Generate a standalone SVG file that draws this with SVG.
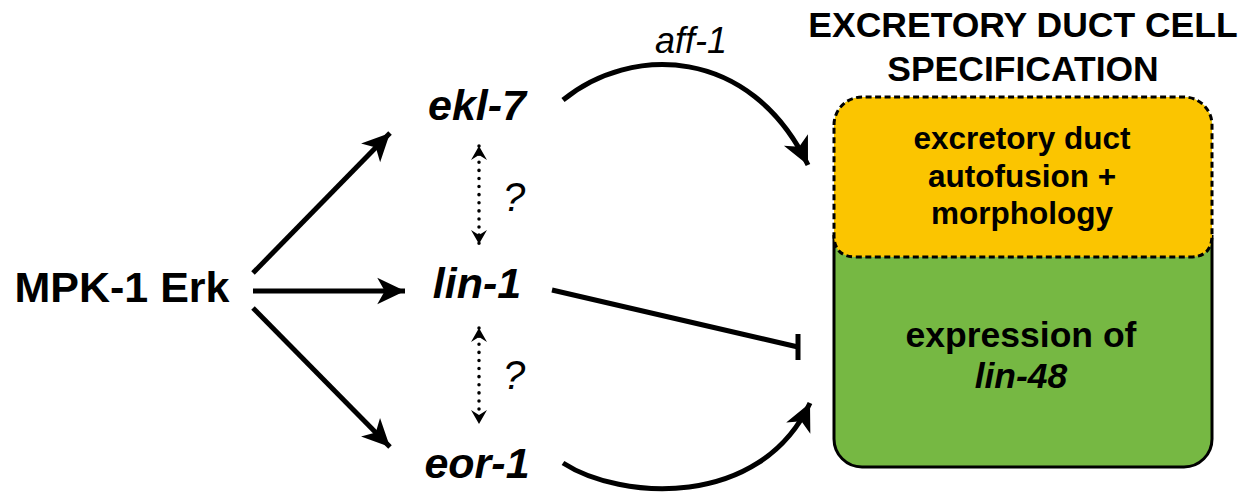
<svg xmlns="http://www.w3.org/2000/svg" width="1252" height="500" viewBox="0 0 1252 500">
<style>
.t{font-family:"Liberation Sans",Arial,sans-serif;font-weight:bold;fill:#000}
.bi{font-family:"Liberation Sans",Arial,sans-serif;font-weight:bold;font-style:italic;fill:#000}
.i{font-family:"Liberation Sans",Arial,sans-serif;font-style:italic;fill:#000}
.c{fill:none;stroke:#000;stroke-width:5}
.d{fill:none;stroke:#000;stroke-width:3.5;stroke-dasharray:0.1 8;stroke-linecap:round}
</style>
<defs>
<marker id="ah" markerUnits="userSpaceOnUse" markerWidth="32" markerHeight="32" viewBox="-28 -14 30 28" refX="0" refY="0" orient="auto">
<path d="M0,0 L-26,-12.5 L-19,0 L-26,12.5 Z" fill="#000"/>
</marker>
<marker id="sh" markerUnits="userSpaceOnUse" markerWidth="18" markerHeight="18" viewBox="-15 -9 16 18" refX="0" refY="0" orient="auto-start-reverse">
<path d="M0,0 L-14,-8 L-9,0 L-14,8 Z" fill="#000"/>
</marker>
</defs>
<g id="title">
<text class="t" x="1023" y="37" font-size="35.5" text-anchor="middle">EXCRETORY DUCT CELL</text>
<text class="t" x="1023" y="81" font-size="35.5" text-anchor="middle">SPECIFICATION</text>
</g>
<g id="box">
<rect x="834" y="97" width="378" height="370" rx="28" fill="#76B843"/>
<path d="M834,235 L834,439 A28,28 0 0 0 862,467 L1184,467 A28,28 0 0 0 1212,439 L1212,235" fill="none" stroke="#000" stroke-width="3"/>
<path d="M834,125 A28,28 0 0 1 862,97 L1184,97 A28,28 0 0 1 1212,125 L1212,235 Q1212,257 1190,257 L856,257 Q834,257 834,235 Z" fill="#FBC500" stroke="#000" stroke-width="3" stroke-dasharray="6 3.5"/>
<text class="t" x="1022" y="149" font-size="31.5" text-anchor="middle">excretory duct</text>
<text class="t" x="1022" y="187" font-size="31.5" text-anchor="middle">autofusion +</text>
<text class="t" x="1022" y="224" font-size="31.5" text-anchor="middle">morphology</text>
<text class="t" x="1021" y="347" font-size="35.5" text-anchor="middle">expression of</text>
<text class="bi" x="1021" y="388" font-size="35.5" text-anchor="middle">lin-48</text>
</g>
<g id="mpk1"><text class="t" x="122" y="302" font-size="43" text-anchor="middle">MPK-1 Erk</text></g>
<g id="ekl7"><text class="bi" x="477" y="120" font-size="43" text-anchor="middle">ekl-7</text></g>
<g id="lin1"><text class="bi" x="477" y="298" font-size="43" text-anchor="middle">lin-1</text></g>
<g id="eor1"><text class="bi" x="477" y="478" font-size="43" text-anchor="middle">eor-1</text></g>
<g id="connectors">
<line class="c" x1="253" y1="273" x2="390" y2="133" marker-end="url(#ah)"/>
<line class="c" x1="253" y1="291" x2="405" y2="291" marker-end="url(#ah)"/>
<line class="c" x1="253" y1="308" x2="390" y2="447" marker-end="url(#ah)"/>
<path class="c" d="M563,100 C630,45 750,45 808,165" marker-end="url(#ah)"/>
<path class="c" d="M563,463 C620,500 760,510 810,403" marker-end="url(#ah)"/>
<line class="c" x1="552" y1="290" x2="798" y2="347"/>
<line class="c" x1="798" y1="334" x2="798" y2="360"/>
<line class="d" x1="479" y1="146" x2="479" y2="244" marker-start="url(#sh)" marker-end="url(#sh)"/>
<line class="d" x1="479" y1="328" x2="479" y2="424" marker-start="url(#sh)" marker-end="url(#sh)"/>
<text class="i" x="514" y="211" font-size="40" text-anchor="middle">?</text>
<text class="i" x="514" y="389" font-size="40" text-anchor="middle">?</text>
<text class="i" x="691" y="53" font-size="36" text-anchor="middle">aff-1</text>
</g>
</svg>
